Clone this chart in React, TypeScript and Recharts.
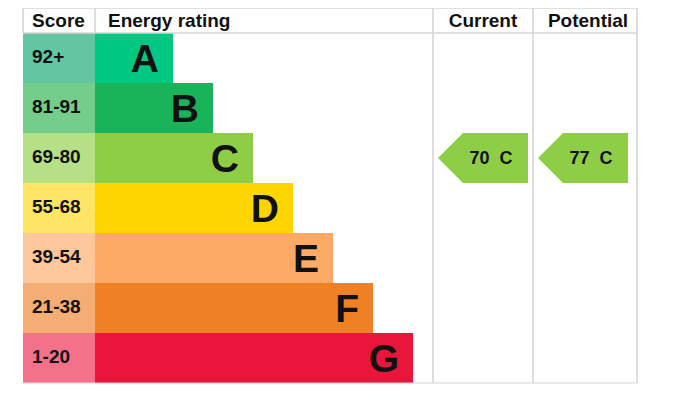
import React from 'react';
import { ComposedChart, Bar, XAxis, YAxis, Cell, LabelList, ReferenceLine } from 'recharts';

// ---- data ----
const bands = ['A', 'B', 'C', 'D', 'E', 'F', 'G'];
const scoreRanges = ['92+', '81-91', '69-80', '55-68', '39-54', '21-38', '1-20'];
const barLengths = [78, 118, 158, 198, 238, 278, 318];
const bandColors = ['#00c781', '#19b459', '#8dce46', '#ffd500', '#fcaa65', '#ef8023', '#e9153b'];
const scoreColors = ['#63c6a3', '#74cd8b', '#b6e085', '#ffe566', '#fec69b', '#f4ad73', '#f3728a'];
const headerLabels = ['Score', 'Energy rating', 'Current', 'Potential'];
const currentRating = { score: 70, band: 'C' };
const potentialRating = { score: 77, band: 'C' };

// ---- layout constants ----
const W = 675;
const H = 390;
const DOMAIN_MAX = 614;
const SCORE_W = 72;
const CUR_START = 415;
const POT_START = 515;
const ARROW_W = 90;
const HEADER_H = 25;
const columnEdges = [0, 72, 410, 510, 614];
const headerPos = [35.5, 85, 460, 565];
const headerAnchor = ['middle', 'start', 'middle', 'middle'];
const LINE = '#d6d6d6';
const FONT = '"Liberation Sans", Arial, sans-serif';

const data = bands.map((band, i) => {
  const hasCur = currentRating.band === band;
  const hasPot = potentialRating.band === band;
  const ratingEnd = SCORE_W + barLengths[i];
  const gap1 = hasCur || hasPot ? (hasCur ? CUR_START : POT_START) - ratingEnd : 0;
  const cur = hasCur ? ARROW_W : 0;
  const prevEnd = hasCur ? CUR_START + ARROW_W : hasPot ? POT_START : ratingEnd;
  const gap2 = hasPot && hasCur ? POT_START - prevEnd : 0;
  const pot = hasPot ? ARROW_W : 0;
  return {
    band,
    range: scoreRanges[i],
    score: SCORE_W,
    rating: barLengths[i],
    gap1,
    cur,
    gap2,
    pot,
    curText: hasCur ? `${currentRating.score}\u00a0 ${currentRating.band}` : '',
    potText: hasPot ? `${potentialRating.score}\u00a0 ${potentialRating.band}` : '',
  };
});

const ArrowShape = (props: any) => {
  const { x, y, width, height, fill } = props;
  if (!width || width <= 0) return null;
  const notch = 25;
  const pts = [
    [x, y + height / 2],
    [x + notch, y],
    [x + width, y],
    [x + width, y + height],
    [x + notch, y + height],
  ]
    .map((p) => p.join(','))
    .join(' ');
  return <polygon points={pts} fill={fill} />;
};

const HeaderTick = (props: any) => {
  const { x, payload } = props;
  const v = payload.value;
  const ci = columnEdges.indexOf(v);
  if (ci >= 0) {
    return <line x1={x} x2={x} y1={0} y2={HEADER_H} stroke={LINE} strokeWidth={1.6} />;
  }
  const hi = headerPos.indexOf(v);
  if (hi < 0) return null;
  return (
    <text
      x={x}
      y={HEADER_H * 0.76}
      textAnchor={headerAnchor[hi]}
      fontFamily={FONT}
      fontWeight="bold"
      fontSize={19}
      fill="#111"
    >
      {headerLabels[hi]}
    </text>
  );
};

const TopBorder = (props: any) => {
  const vb = props.viewBox;
  if (!vb) return null;
  return <line x1={vb.x} x2={vb.x + vb.width} y1={vb.y} y2={vb.y} stroke={LINE} strokeWidth={1.6} />;
};

const ScoreLabel = (props: any) => {
  const { x, y, height, value } = props;
  if (!value) return null;
  return (
    <text x={x + 9} y={y + height / 2} dy="0.25em" fontFamily={FONT} fontWeight="bold" fontSize={19} fill="#111">
      {value}
    </text>
  );
};

const LetterLabel = (props: any) => {
  const { x, y, width, height, value } = props;
  if (!value) return null;
  return (
    <text
      x={x + width - 14}
      y={y + height / 2}
      dy="0.36em"
      textAnchor="end"
      fontFamily={FONT}
      fontWeight="bold"
      fontSize={39}
      fill="#111"
    >
      {value}
    </text>
  );
};

const ArrowLabel = (props: any) => {
  const { x, y, width, height, value } = props;
  if (!value || !width) return null;
  return (
    <text
      x={x + width / 2 + 8}
      y={y + height / 2}
      dy="0.36em"
      textAnchor="middle"
      fontFamily={FONT}
      fontWeight="bold"
      fontSize={18}
      fill="#111"
    >
      {value}
    </text>
  );
};

const currentColor = bandColors[bands.indexOf(currentRating.band)];
const potentialColor = bandColors[bands.indexOf(potentialRating.band)];

export default function App() {
  return (
    <div style={{ width: W, height: H }}>
      <style>{`.recharts-surface{overflow:visible}`}</style>
      <ComposedChart
        width={W}
        height={H}
        data={data}
        layout="vertical"
        margin={{ top: 0, right: 46, bottom: 14, left: 15 }}
        barCategoryGap={0}
        barGap={0}
      >
        <XAxis
          xAxisId="head"
          orientation="top"
          type="number"
          domain={[0, DOMAIN_MAX]}
          allowDataOverflow
          height={HEADER_H}
          ticks={[...columnEdges, ...headerPos].sort((a, b) => a - b)}
          interval={0}
          tickLine={false}
          tick={<HeaderTick />}
          axisLine={{ stroke: LINE, strokeWidth: 1.6 }}
          label={<TopBorder />}
        />
        <XAxis
          xAxisId="bottom"
          orientation="bottom"
          type="number"
          domain={[0, DOMAIN_MAX]}
          allowDataOverflow
          height={1}
          tick={false}
          tickLine={false}
          axisLine={{ stroke: LINE, strokeWidth: 1.2 }}
        />
        <YAxis type="category" dataKey="band" hide />
        {columnEdges.slice(2).map((v) => (
          <ReferenceLine key={v} xAxisId="head" x={v} stroke={LINE} strokeWidth={1.6} />
        ))}
        <Bar xAxisId="head" dataKey="score" stackId="s" isAnimationActive={false}>
          {data.map((d, i) => (
            <Cell key={d.band} fill={scoreColors[i]} />
          ))}
          <LabelList dataKey="range" content={<ScoreLabel />} />
        </Bar>
        <Bar xAxisId="head" dataKey="rating" stackId="s" isAnimationActive={false}>
          {data.map((d, i) => (
            <Cell key={d.band} fill={bandColors[i]} />
          ))}
          <LabelList dataKey="band" content={<LetterLabel />} />
        </Bar>
        <Bar xAxisId="head" dataKey="gap1" stackId="s" fill="transparent" isAnimationActive={false} />
        <Bar xAxisId="head" dataKey="cur" stackId="s" fill={currentColor} shape={<ArrowShape />} isAnimationActive={false}>
          <LabelList dataKey="curText" content={<ArrowLabel />} />
        </Bar>
        <Bar xAxisId="head" dataKey="gap2" stackId="s" fill="transparent" isAnimationActive={false} />
        <Bar xAxisId="head" dataKey="pot" stackId="s" fill={potentialColor} shape={<ArrowShape />} isAnimationActive={false}>
          <LabelList dataKey="potText" content={<ArrowLabel />} />
        </Bar>
      </ComposedChart>
    </div>
  );
}
